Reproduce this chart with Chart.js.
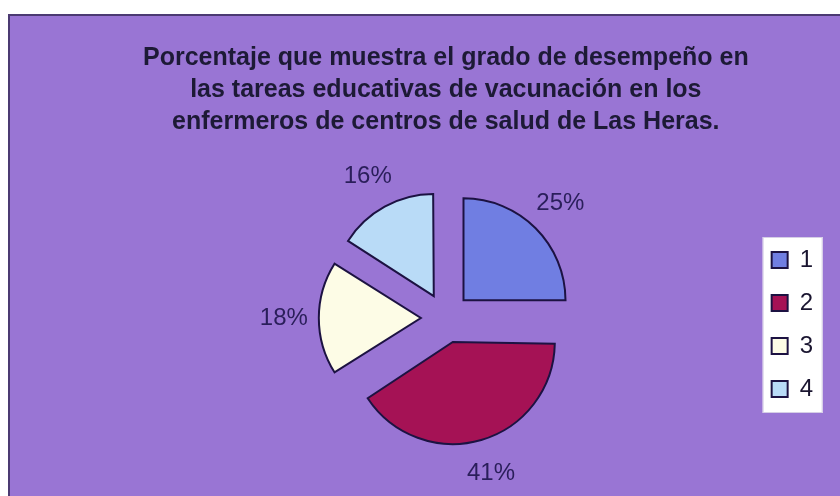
<!DOCTYPE html>
<html>
<head>
<meta charset="utf-8">
<script src="https://cdn.jsdelivr.net/npm/chart.js@4"></script>
<style>
    body { margin: 0; background: #ffffff; }
    #panel {
        position: absolute;
        left: 8px; top: 14px;
        width: 830px; height: 480px;
        background: #9975d4;
        border-left: 2px solid #4b3a72;
        border-top: 2px solid #4b3a72;
    }
    #panel canvas { display: block; }
</style>
</head>
<body>
<div id="panel"><canvas id="pieChart" width="830" height="480"></canvas></div>
<script>
const categories = ['1', '2', '3', '4'];
const percentages = [25, 41, 18, 16];
const sliceColors = ['#707ee2', '#a51255', '#fdfce6', '#b9dbf7'];
const titleLines = [
    'Porcentaje que muestra el grado de desempeño en',
    'las tareas educativas de vacunación en los',
    'enfermeros de centros de salud de Las Heras.'
];

const PIE_RADIUS = 102;
const SLICE_OFFSET = 100; // chart.js moves a slice by offset / 4

// chart.js grows narrow slices a bit when they are offset, undo that so all slices keep the same radius
const sameRadius = {
    id: 'sameRadius',
    afterDatasetUpdate(chart, args) {
        args.meta.data.forEach(arc => {
            const circ = arc.endAngle - arc.startAngle;
            const fix = 1 - Math.sin(Math.min(Math.PI, circ));
            arc.outerRadius = PIE_RADIUS - (SLICE_OFFSET / 4) * fix;
        });
    }
};

// white box behind the legend (legend is drawn before the datasets, so paint this first)
const legendBox = {
    id: 'legendBox',
    beforeDraw(chart) {
        const boxes = chart.legend.legendHitBoxes;
        if (!boxes || !boxes.length) return;
        const first = boxes[0];
        const last = boxes[boxes.length - 1];
        const ctx = chart.ctx;
        const x = first.left - 9;
        const y = first.top - 11;
        const w = 60;
        const h = last.top + last.height - first.top + 23;
        ctx.save();
        ctx.fillStyle = '#ffffff';
        ctx.fillRect(x, y, w, h);
        ctx.strokeStyle = '#d6cfe6';
        ctx.lineWidth = 1;
        ctx.strokeRect(x + 0.5, y + 0.5, w - 1, h - 1);
        ctx.restore();
    }
};

// percent labels outside each slice
const percentLabels = {
    id: 'percentLabels',
    afterDatasetsDraw(chart) {
        const ctx = chart.ctx;
        const meta = chart.getDatasetMeta(0);
        ctx.save();
        ctx.font = '24px "Liberation Sans", Arial, sans-serif';
        ctx.fillStyle = '#2a1e5a';
        ctx.textAlign = 'center';
        ctx.textBaseline = 'middle';
        meta.data.forEach((arc, i) => {
            const mid = (arc.startAngle + arc.endAngle) / 2;
            const dist = SLICE_OFFSET / 4 + PIE_RADIUS + 35;
            const x = arc.x + Math.cos(mid) * dist;
            const y = arc.y + Math.sin(mid) * dist;
            ctx.fillText(percentages[i] + '%', x, y);
        });
        ctx.restore();
    }
};

const ctx = document.getElementById('pieChart').getContext('2d');
new Chart(ctx, {
    type: 'pie',
    data: {
        labels: categories,
        datasets: [{
            data: percentages,
            backgroundColor: sliceColors,
            borderColor: '#1c1242',
            borderWidth: 2,
            borderJoinStyle: 'miter',
            offset: SLICE_OFFSET
        }]
    },
    options: {
        responsive: false,
        animation: false,
        radius: PIE_RADIUS,
        layout: {
            padding: { left: 129, right: 17, top: 0, bottom: 76 }
        },
        plugins: {
            title: {
                display: true,
                fullSize: false,
                text: titleLines,
                color: '#1d1a36',
                font: { family: '"Liberation Sans", Arial, sans-serif', size: 25, weight: 'bold', lineHeight: 1.28 },
                padding: { top: 26, bottom: 78 }
            },
            legend: {
                position: 'right',
                align: 'end',
                labels: {
                    boxWidth: 16,
                    boxHeight: 16,
                    padding: 19,
                    color: '#1a1530',
                    font: { family: '"Liberation Sans", Arial, sans-serif', size: 24 }
                }
            },
            tooltip: { enabled: false }
        }
    },
    plugins: [sameRadius, legendBox, percentLabels]
});
</script>
</body>
</html>
